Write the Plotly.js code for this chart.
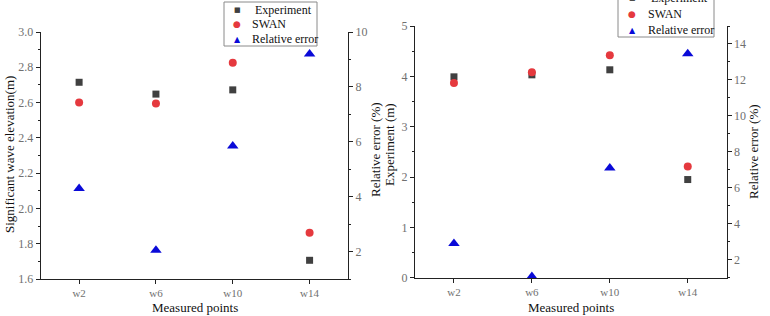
<!DOCTYPE html>
<html>
<head>
<meta charset="utf-8">
<script src="https://cdn.plot.ly/plotly-3.0.1.min.js"></script>
<style>
  html, body { margin: 0; padding: 0; background: #fff; }
  #chart { width: 770px; height: 316px; }
</style>
</head>
<body>
<div id="chart"></div>
<script>
// Measured points along the flume
const points = ['w2', 'w6', 'w10', 'w14'];

// Case 1: significant wave elevation (m) and relative error (%)
const expA = [2.715, 2.648, 2.672, 1.706];
const swanA = [2.600, 2.595, 2.826, 1.862];
const errA = [4.3, 2.05, 5.85, 9.2];

// Case 2: significant wave elevation (m) and relative error (%)
const expB = [3.99, 4.03, 4.13, 1.95];
const swanB = [3.87, 4.08, 4.42, 2.21];
const errB = [2.9, 1.07, 7.1, 13.45];

const legendNames = ['Experiment', 'SWAN', 'Relative error'];

const W = 770, H = 316;
const px = x => x / W;          // pixel -> paper x
const py = y => 1 - y / H;      // pixel -> paper y

const serif = 'Liberation Serif, Times New Roman, serif';
const colExp = '#404040', colSwan = '#e5393e', colErr = '#0a0ad8';

const mk = {
  exp:  { symbol: 'square', size: 7, color: colExp },
  swan: { symbol: 'circle', size: 8, color: colSwan },
  err:  { symbol: 'triangle-up', size: 10, color: colErr }
};

function tr(y, name, marker, xa, ya) {
  return { type: 'scatter', mode: 'markers', x: points, y: y, name: name,
           marker: marker, xaxis: xa, yaxis: ya, showlegend: false, cliponaxis: false };
}

const data = [
  tr(expA, legendNames[0], mk.exp, 'x', 'y'),
  tr(swanA, legendNames[1], mk.swan, 'x', 'y'),
  tr(errA, legendNames[2], mk.err, 'x', 'y2'),
  tr(expB, legendNames[0], mk.exp, 'x2', 'y3'),
  tr(swanB, legendNames[1], mk.swan, 'x2', 'y3'),
  tr(errB, legendNames[2], mk.err, 'x2', 'y4')
];

const tickFont = { family: serif, size: 12, color: '#707070' };
const baseAxis = {
  showline: true, linecolor: '#222', linewidth: 1, mirror: false,
  showgrid: false, zeroline: false, ticks: 'outside', ticklen: 4,
  tickcolor: '#222', tickwidth: 1, tickfont: tickFont, fixedrange: true
};
const xCat = Object.assign({}, baseAxis, {
  type: 'category', range: [-0.5, 3.5], ticklen: 4,
  tickfont: { family: serif, size: 11, color: '#707070' }
});

const domA = { x: [px(40.7), px(348)], y: [py(279), py(32)] };
const domB = { x: [px(415), px(726.7)], y: [py(277.7), py(26)] };

const layout = {
  width: W, height: H,
  margin: { l: 0, r: 0, t: 0, b: 0, pad: 0 },
  paper_bgcolor: '#fff', plot_bgcolor: '#fff',
  showlegend: false,
  font: { family: serif },
  xaxis: Object.assign({}, xCat, { domain: domA.x, anchor: 'y' }),
  yaxis: Object.assign({}, baseAxis, {
    domain: domA.y, anchor: 'x', range: [1.6, 3.0], dtick: 0.2, tick0: 0,
    tickformat: '.1f',
    minor: { ticks: 'outside', dtick: 0.1, ticklen: 2, tickcolor: '#222' }
  }),
  yaxis2: Object.assign({}, baseAxis, {
    overlaying: 'y', side: 'right', anchor: 'x', range: [1, 10], dtick: 2, tick0: 0,
    minor: { ticks: 'outside', dtick: 1, ticklen: 2, tickcolor: '#222' }
  }),
  xaxis2: Object.assign({}, xCat, { domain: domB.x, anchor: 'y3' }),
  yaxis3: Object.assign({}, baseAxis, {
    domain: domB.y, anchor: 'x2', range: [0, 5], dtick: 1, tick0: 0,
    minor: { ticks: 'outside', dtick: 0.5, ticklen: 2, tickcolor: '#222' }
  }),
  yaxis4: Object.assign({}, baseAxis, {
    overlaying: 'y3', side: 'right', anchor: 'x2', range: [1, 15], dtick: 2, tick0: 0,
    minor: { ticks: 'outside', dtick: 1, ticklen: 2, tickcolor: '#222' }
  }),
  shapes: [],
  annotations: []
};

// Axis titles
function title(text, x, y, angle, size) {
  layout.annotations.push({
    xref: 'paper', yref: 'paper', x: px(x), y: py(y), text: text, showarrow: false,
    textangle: angle, xanchor: 'center', yanchor: 'middle',
    font: { family: serif, size: size, color: '#111' }
  });
}
title('Significant wave elevation(m)', 10, 155, -90, 13);
title('Relative error (%)', 375, 150, -90, 13);
title('Measured points', 195, 307, 0, 13);
title('Experiment (m)', 389, 145, -90, 13);
title('Relative error (%)', 753, 152, -90, 13);
title('Measured points', 571, 307, 0, 13);

// Boxed legends with symbol glyphs
function legendBox(x0, y0, x1, y1, symX, textX, rows) {
  layout.shapes.push({
    type: 'rect', xref: 'paper', yref: 'paper',
    x0: px(x0), x1: px(x1), y0: py(y1), y1: py(y0),
    line: { color: '#8a8a8a', width: 1 }, fillcolor: '#fff', layer: 'above'
  });
  const glyphs = [['\u25A0', colExp, 7], ['\u25CF', colSwan, 9], ['\u25B2', colErr, 8]];
  rows.forEach((ry, i) => {
    layout.annotations.push({
      xref: 'paper', yref: 'paper', x: px(symX), y: py(ry), text: glyphs[i][0],
      showarrow: false, xanchor: 'center', yanchor: 'middle',
      font: { family: 'DejaVu Sans', size: glyphs[i][2], color: glyphs[i][1] }
    });
    layout.annotations.push({
      xref: 'paper', yref: 'paper', x: px(textX + (i === 0 ? 3 : 0)), y: py(ry), text: legendNames[i],
      showarrow: false, xanchor: 'left', yanchor: 'middle',
      font: { family: serif, size: 12, color: '#111' }
    });
  });
}
legendBox(224, 2, 317, 46, 237, 250, [10.5, 24.5, 39]);
legendBox(618, -11, 714, 37, 632, 646, [-2, 13.5, 30]);

Plotly.newPlot('chart', data, layout, { displayModeBar: false, staticPlot: true });
</script>
</body>
</html>
